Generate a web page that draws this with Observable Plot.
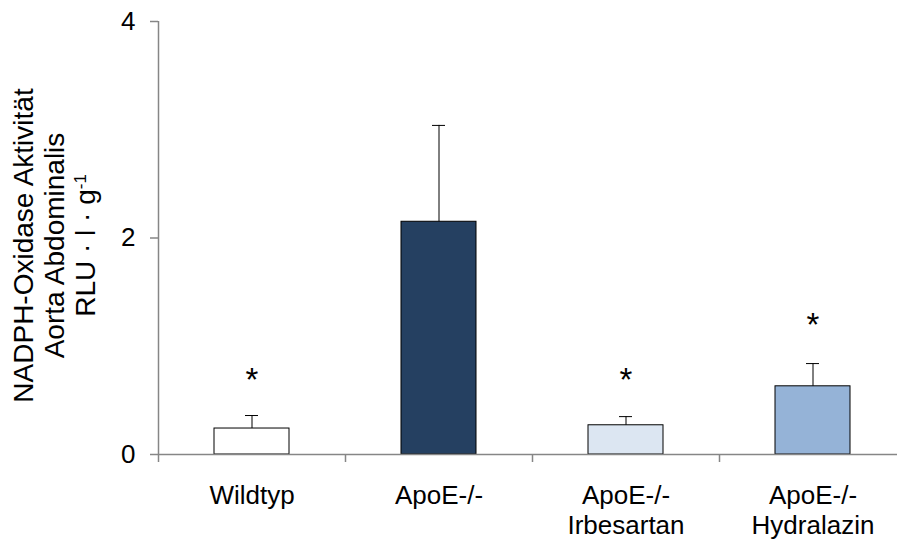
<!DOCTYPE html>
<html>
<head>
<meta charset="utf-8">
<script src="https://cdn.jsdelivr.net/npm/d3@7"></script>
<script src="https://cdn.jsdelivr.net/npm/@observablehq/plot@0.6"></script>
<style>
  html, body { margin: 0; padding: 0; background: #fff; }
  #chart { width: 897px; height: 539px; }
</style>
</head>
<body>
<div id="chart"></div>
<script>
// ---- data ----
const categories = ["Wildtyp", "ApoE-/-", "ApoE-/-\nIrbesartan", "ApoE-/-\nHydralazin"];
const values = [0.24, 2.15, 0.27, 0.63];
const errors = [0.12, 0.89, 0.08, 0.21];
const colors = ["#ffffff", "#254061", "#dce6f2", "#95b3d7"];
const stars = ["*", "", "*", "*"];
const starY = [0.71, null, 0.71, 1.22];
const yTicks = [0, 2, 4];
const yTitle = ["NADPH-Oxidase Aktivität", "Aorta Abdominalis", "RLU · l · g"];

const data = categories.map((c, i) => ({
  cat: c, value: values[i], err: errors[i], color: colors[i], star: stars[i], starY: starY[i]
}));

const W = 897, H = 539;
const mLeft = 158, mTop = 21, mBottom = 85;
const xRange = [mLeft, 906];
const step = (xRange[1] - xRange[0]) / categories.length;
const axisGray = "#868686";
const font = "Liberation Sans, Arial, sans-serif";

const chart = Plot.plot({
  width: W,
  height: H,
  marginLeft: mLeft,
  marginRight: 0,
  marginTop: mTop,
  marginBottom: mBottom,
  style: { fontFamily: font, fontSize: "26px", color: "black", background: "white" },
  x: { domain: categories, range: xRange, paddingInner: 0.6, paddingOuter: 0.3 },
  y: { domain: [0, 4] },
  color: { type: "identity" },
  marks: [
    Plot.barY(data, { x: "cat", y: "value", fill: "color", stroke: "black", strokeWidth: 1 }),
    Plot.ruleX(data, { x: "cat", y1: "value", y2: d => d.value + d.err, stroke: "black", strokeWidth: 1 }),
    Plot.tickY(data, { x: "cat", y: d => d.value + d.err, stroke: "black", strokeWidth: 1, inset: 31 }),
    Plot.text(data.filter(d => d.star), { x: "cat", y: "starY", text: "star", fontSize: 33, dy: 3 }),
    // axes
    Plot.ruleY([0], { stroke: axisGray, strokeWidth: 1.5 }),
    Plot.ruleX([categories[0]], { x: d => d, dx: -step / 2, stroke: axisGray, strokeWidth: 1.5 }),
    Plot.ruleX(categories, { x: d => d, y1: 0, y2: 0, insetBottom: -8, dx: -step / 2, stroke: axisGray, strokeWidth: 1.5 }),
    Plot.axisX({ tickSize: 0, tickPadding: 28, lineHeight: 1.15, fontSize: 26, label: null }),
    Plot.axisY({ ticks: yTicks, tickFormat: d => String(d), tickSize: 8, tickPadding: 15, stroke: axisGray, fill: "black", strokeWidth: 1.5, fontSize: 26, label: null })
  ]
});

const svg = d3.select(chart);
const g = svg.append("g")
  .attr("transform", `translate(0, ${(mTop + (H - mBottom)) / 2 + 8}) rotate(-90)`)
  .attr("font-family", font)
  .attr("font-size", 28)
  .attr("text-anchor", "middle")
  .attr("fill", "black");
const baselines = [33, 64, 95];
yTitle.forEach((t, i) => {
  const txt = g.append("text").attr("x", 0).attr("y", baselines[i]);
  txt.append("tspan").text(t);
  if (i === 2) {
    txt.append("tspan").attr("font-size", 17).attr("baseline-shift", "55%").text("-1");
  }
});

document.getElementById("chart").appendChild(chart);
</script>
</body>
</html>
